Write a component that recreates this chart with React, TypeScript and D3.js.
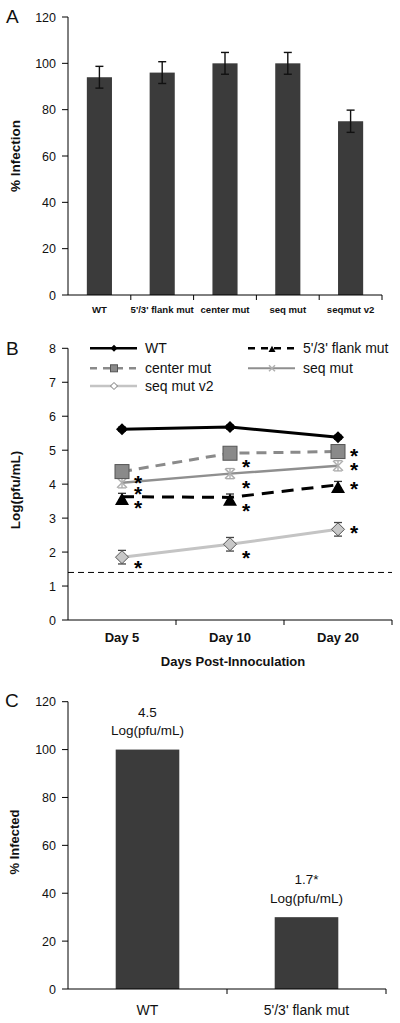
import React from "react";
import * as d3 from "d3";

// ---------- Panel A data ----------
const aCategories = ["WT", "5'/3' flank mut", "center mut", "seq mut", "seqmut v2"];
const aValues = [94, 96, 100, 100, 75];
const aErrors = [4.7, 4.7, 4.7, 4.7, 4.8];
const aTicks = [0, 20, 40, 60, 80, 100, 120];

// ---------- Panel B data ----------
const bDays = ["Day 5", "Day 10", "Day 20"];
const bWT = [5.62, 5.68, 5.38];
const bFlank = [3.63, 3.61, 3.98];
const bCenter = [4.37, 4.91, 4.96];
const bSeq = [4.04, 4.31, 4.54];
const bSeqV2 = [1.85, 2.23, 2.67];
const bErrWT = [0.06, 0.06, 0.06];
const bErrFlank = [0.1, 0.1, 0.1];
const bErrCenter = [0.12, 0.1, 0.1];
const bErrSeq = [0.15, 0.15, 0.15];
const bErrSeqV2 = [0.2, 0.2, 0.2];
const bDetectionLimit = 1.4;
const bTicks = [0, 1, 2, 3, 4, 5, 6, 7, 8];

// ---------- Panel C data ----------
const cCategories = ["WT", "5'/3' flank mut"];
const cValues = [100, 30];
const cAnnotations = ["4.5", "1.7*"];
const cTicks = [0, 20, 40, 60, 80, 100, 120];

const FONT = "Arial, 'Liberation Sans', sans-serif";
const BAR = "#3b3b3b";

type Series = {
  name: string;
  values: number[];
  errors: number[];
  color: string;
  width: number;
  dash?: string;
  marker: "diamond" | "triangle" | "square" | "x" | "diamondLight";
  star: boolean;
};

const series: Series[] = [
  { name: "WT", values: bWT, errors: bErrWT, color: "#000", width: 3, marker: "diamond", star: false },
  { name: "5'/3' flank mut", values: bFlank, errors: bErrFlank, color: "#000", width: 3, dash: "12,8", marker: "triangle", star: true },
  { name: "center mut", values: bCenter, errors: bErrCenter, color: "#8a8a8a", width: 3, dash: "10,7", marker: "square", star: true },
  { name: "seq mut", values: bSeq, errors: bErrSeq, color: "#8f8f8f", width: 2.5, marker: "x", star: true },
  { name: "seq mut v2", values: bSeqV2, errors: bErrSeqV2, color: "#c4c4c4", width: 3, marker: "diamondLight", star: true },
];

function Marker({ kind, x, y, s }: { kind: string; x: number; y: number; s: number }) {
  const h = s / 2;
  if (kind === "diamond")
    return <path d={`M${x},${y - h}L${x + h},${y}L${x},${y + h}L${x - h},${y}Z`} fill="#000" />;
  if (kind === "diamondLight")
    return (
      <path
        d={`M${x},${y - h}L${x + h},${y}L${x},${y + h}L${x - h},${y}Z`}
        fill="#c8c8c8"
        stroke="#555"
        strokeWidth={1}
      />
    );
  if (kind === "triangle")
    return <path d={`M${x},${y - h}L${x + h},${y + h * 0.75}L${x - h},${y + h * 0.75}Z`} fill="#000" />;
  if (kind === "square")
    return <rect x={x - h} y={y - h} width={s} height={s} fill="#8a8a8a" stroke="#555" strokeWidth={1} />;
  // x marker
  return (
    <g stroke="#b0b0b0" strokeWidth={1.5}>
      <line x1={x - h} y1={y - h} x2={x + h} y2={y + h} />
      <line x1={x - h} y1={y + h} x2={x + h} y2={y - h} />
    </g>
  );
}

const STAR_SIZE = 21;
function Star({ x, y }: { x: number; y: number }) {
  // y is the visual centre of the asterisk glyph
  return (
    <text x={x} y={y + STAR_SIZE * 0.57} fontFamily={FONT} fontSize={STAR_SIZE} fontWeight="bold" textAnchor="middle" fill="#000">
      *
    </text>
  );
}

function YAxis({ scale, ticks, x0 }: { scale: d3.ScaleLinear<number, number>; ticks: number[]; x0: number }) {
  const [r0, r1] = scale.range();
  return (
    <g>
      <line x1={x0} x2={x0} y1={r0} y2={r1} stroke="#000" strokeWidth={1} />
      {ticks.map((t) => (
        <g key={t}>
          <line x1={x0 - 6} x2={x0} y1={scale(t)} y2={scale(t)} stroke="#000" strokeWidth={1} />
          <text x={x0 - 12} y={scale(t)} dy="0.36em" textAnchor="end" fontFamily={FONT} fontSize={12.5} fill="#111">
            {t}
          </text>
        </g>
      ))}
    </g>
  );
}

function BandXAxis({ scale, y0 }: { scale: d3.ScaleBand<string>; y0: number }) {
  const [x0, x1] = scale.range();
  const dom = scale.domain();
  return (
    <g>
      <line x1={x0} x2={x1} y1={y0} y2={y0} stroke="#000" strokeWidth={1} />
      {dom.map((d) => (
        <line key={d} x1={(scale(d) as number) + scale.step()} x2={(scale(d) as number) + scale.step()} y1={y0} y2={y0 + 5} stroke="#000" strokeWidth={1} />
      ))}
    </g>
  );
}

export default function App() {
  // ---------- Panel A ----------
  const axA = d3.scaleBand<string>().domain(aCategories).range([68, 382]).paddingInner(0.6).paddingOuter(0.3);
  const axABase = d3.scaleBand<string>().domain(aCategories).range([68, 382]);
  const ayA = d3.scaleLinear().domain([0, 120]).range([295, 17]);

  // ---------- Panel B ----------
  const bxB = d3.scalePoint<string>().domain(bDays).range([68, 392]).padding(0.5);
  const bxBand = d3.scaleBand<string>().domain(bDays).range([68, 392]);
  const byB = d3.scaleLinear().domain([0, 8]).range([620, 348.3]);
  const lineGen = d3
    .line<number>()
    .x((_, i) => bxB(bDays[i]) as number)
    .y((v) => byB(v));

  // ---------- Panel C ----------
  const cxBase = d3.scaleBand<string>().domain(cCategories).range([68, 386]);
  const cx = d3.scaleBand<string>().domain(cCategories).range([68, 386]).paddingInner(0.6).paddingOuter(0.3);
  const cy = d3.scaleLinear().domain([0, 120]).range([989, 701.7]);

  const starDy = [6, 9, -1];

  const legendItems = [
    { s: series[0], x: 90, y: 348.3 },
    { s: series[1], x: 248, y: 348.3 },
    { s: series[2], x: 90, y: 368.3 },
    { s: series[3], x: 248, y: 368.3 },
    { s: series[4], x: 90, y: 386 },
  ];

  return (
    <svg
      width={400}
      height={1023}
      viewBox="0 0 400 1023"
      style={{ position: "absolute", left: 0, top: 0, background: "#fff" }}
    >
      <rect width={400} height={1023} fill="#fff" />

      {/* ================= Panel A ================= */}
      <text x={6} y={23} fontFamily={FONT} fontSize={19} fill="#111">A</text>
      {aCategories.map((c, i) => {
        const x = axA(c) as number;
        const w = axA.bandwidth();
        const cxm = x + w / 2;
        return (
          <g key={c}>
            <rect x={x} y={ayA(aValues[i])} width={w} height={ayA(0) - ayA(aValues[i])} fill={BAR} />
            <g stroke="#111" strokeWidth={1.4}>
              <line x1={cxm} x2={cxm} y1={ayA(aValues[i] + aErrors[i])} y2={ayA(aValues[i] - aErrors[i])} />
              <line x1={cxm - 4} x2={cxm + 4} y1={ayA(aValues[i] + aErrors[i])} y2={ayA(aValues[i] + aErrors[i])} />
              <line x1={cxm - 4} x2={cxm + 4} y1={ayA(aValues[i] - aErrors[i])} y2={ayA(aValues[i] - aErrors[i])} />
            </g>
            <text x={(axABase(c) as number) + axABase.bandwidth() / 2} y={313} textAnchor="middle" fontFamily={FONT} fontSize={9.6} fontWeight="bold" fill="#111">
              {c}
            </text>
          </g>
        );
      })}
      <YAxis scale={ayA} ticks={aTicks} x0={68} />
      <BandXAxis scale={axABase} y0={295} />
      <text transform="translate(20,156) rotate(-90)" textAnchor="middle" fontFamily={FONT} fontSize={13.5} fontWeight="bold" fill="#111">
        % Infection
      </text>

      {/* ================= Panel B ================= */}
      <text x={6} y={355} fontFamily={FONT} fontSize={19} fill="#111">B</text>
      <YAxis scale={byB} ticks={bTicks} x0={68} />
      <BandXAxis scale={bxBand} y0={620} />
      <line x1={68} x2={392} y1={byB(bDetectionLimit)} y2={byB(bDetectionLimit)} stroke="#000" strokeWidth={1} strokeDasharray="6,4" />

      {/* lines (draw back to front) */}
      {[series[4], series[3], series[1], series[2], series[0]].map((s) => (
        <path key={s.name} d={lineGen(s.values) as string} fill="none" stroke={s.color} strokeWidth={s.width} strokeDasharray={s.dash} />
      ))}
      {/* error bars */}
      {series.map((s) =>
        s.values.map((v, i) => {
          const x = bxB(bDays[i]) as number;
          const col = s.marker === "diamondLight" ? "#444" : s.marker === "x" ? "#aaa" : "#333";
          return (
            <g key={s.name + i} stroke={col} strokeWidth={1.3}>
              <line x1={x} x2={x} y1={byB(v + s.errors[i])} y2={byB(v - s.errors[i])} />
              <line x1={x - 4} x2={x + 4} y1={byB(v + s.errors[i])} y2={byB(v + s.errors[i])} />
              <line x1={x - 4} x2={x + 4} y1={byB(v - s.errors[i])} y2={byB(v - s.errors[i])} />
            </g>
          );
        })
      )}
      {/* markers */}
      {[series[4], series[3], series[1], series[2], series[0]].map((s) =>
        s.values.map((v, i) => {
          const size = s.marker === "diamond" ? 12 : s.marker === "square" ? 14 : s.marker === "triangle" ? 14 : s.marker === "x" ? 10 : 13;
          const yOff = s.marker === "triangle" ? 3 : 0;
          return <Marker key={s.name + i} kind={s.marker} x={bxB(bDays[i]) as number} y={byB(v) + yOff} s={size} />;
        })
      )}
      {/* asterisks */}
      {series.map((s) =>
        s.star
          ? s.values.map((v, i) => (
              <Star key={s.name + "*" + i} x={(bxB(bDays[i]) as number) + 16} y={byB(v) + starDy[i]} />
            ))
          : null
      )}

      {/* legend */}
      {legendItems.map(({ s, x, y }) => (
        <g key={"lg" + s.name}>
          <line x1={x} x2={x + 47} y1={y} y2={y} stroke={s.color} strokeWidth={s.marker === "x" ? 2 : s.width - 0.5} strokeDasharray={s.dash ? "7,6" : undefined} />
          {s.marker === "diamondLight" ? (
            <path d={`M${x + 24},${y - 3.5}L${x + 27.5},${y}L${x + 24},${y + 3.5}L${x + 20.5},${y}Z`} fill="#fff" stroke="#777" strokeWidth={1} />
          ) : (
            <Marker kind={s.marker} x={x + 24} y={y + (s.marker === "triangle" ? 1 : 0)} s={s.marker === "x" ? 6 : 7} />
          )}
          <text x={x + 55} y={y} dy="0.36em" fontFamily={FONT} fontSize={14} fill="#111">
            {s.name}
          </text>
        </g>
      ))}

      {bDays.map((d) => (
        <text key={d} x={bxB(d) as number} y={642} textAnchor="middle" fontFamily={FONT} fontSize={13} fontWeight="bold" fill="#111">
          {d}
        </text>
      ))}
      <text x={233} y={666} textAnchor="middle" fontFamily={FONT} fontSize={13} fontWeight="bold" fill="#111">
        Days Post-Innoculation
      </text>
      <text transform="translate(20,490) rotate(-90)" textAnchor="middle" fontFamily={FONT} fontSize={13.5} fontWeight="bold" fill="#111">
        Log(pfu/mL)
      </text>

      {/* ================= Panel C ================= */}
      <text x={5} y={707} fontFamily={FONT} fontSize={19} fill="#111">C</text>
      {cCategories.map((c, i) => {
        const x = cx(c) as number;
        const w = cx.bandwidth();
        const mid = x + w / 2;
        const top = cy(cValues[i]);
        return (
          <g key={c}>
            <rect x={x} y={top} width={w} height={cy(0) - top} fill={BAR} />
            <text x={mid} y={top - 33} textAnchor="middle" fontFamily={FONT} fontSize={13.5} fill="#111">
              {cAnnotations[i]}
            </text>
            <text x={mid} y={top - 14.5} textAnchor="middle" fontFamily={FONT} fontSize={13.5} fill="#111">
              Log(pfu/mL)
            </text>
            <text x={(cxBase(c) as number) + cxBase.bandwidth() / 2} y={1015} textAnchor="middle" fontFamily={FONT} fontSize={14} fill="#111">
              {c}
            </text>
          </g>
        );
      })}
      <YAxis scale={cy} ticks={cTicks} x0={68} />
      <BandXAxis scale={cxBase} y0={989} />
      <text transform="translate(19,842) rotate(-90)" textAnchor="middle" fontFamily={FONT} fontSize={13} fontWeight="bold" fill="#111">
        % Infected
      </text>
    </svg>
  );
}
